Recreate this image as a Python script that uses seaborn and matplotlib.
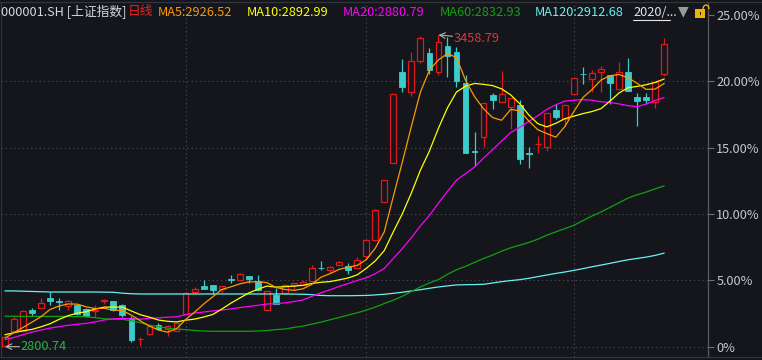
import numpy as np
import pandas as pd
import matplotlib.pyplot as plt
import seaborn as sns
from matplotlib.lines import Line2D
from matplotlib.patches import Rectangle, Arc

# 上证指数 日线 K 线, 数值为相对区间最低价 2800.74 的涨幅 (%)
low_price = 2800.74
high_price = 3458.79
high_idx = 48

opens = [0.02, 1.16, 1.16, 2.79, 2.91, 3.67, 3.43, 3.04, 3.11, 2.86,
         2.66, 3.44, 3.41, 3.16, 2.16, 0.56, 0.93, 1.65, 1.33, 1.20,
         2.49, 4.12, 4.59, 4.67, 4.37, 5.07, 5.00, 5.35, 4.92, 2.74,
         3.87, 4.04, 4.67, 4.62, 4.92, 5.96, 5.75, 6.15, 6.10, 5.90,
         6.80, 8.03, 10.87, 13.88, 20.70, 19.23, 21.56, 22.12, 20.73, 22.67,
         22.21, 19.90, 14.76, 15.84, 18.98, 18.42, 18.10, 18.22, 14.58, 15.25,
         15.08, 17.85, 17.19, 19.05, 20.58, 20.16, 20.73, 20.48, 19.39, 20.68,
         18.83, 18.83, 18.47, 20.53]
closes = [0.70, 2.10, 2.71, 2.53, 3.29, 3.41, 3.40, 3.47, 2.46, 2.28,
          2.74, 3.50, 2.79, 2.36, 0.47, 0.60, 1.53, 1.32, 1.53, 1.78,
          4.04, 4.34, 4.37, 4.24, 4.54, 5.03, 5.48, 5.12, 4.29, 4.22,
          3.24, 4.67, 4.80, 4.87, 5.93, 5.92, 6.00, 6.40, 5.75, 6.55,
          8.06, 10.32, 12.58, 19.05, 19.54, 21.51, 23.24, 20.86, 22.94, 21.89,
          20.06, 14.63, 14.70, 18.35, 18.60, 19.05, 18.72, 14.18, 14.53, 15.29,
          17.60, 17.34, 18.20, 20.23, 20.53, 20.60, 20.91, 19.85, 20.68, 19.28,
          18.55, 18.60, 19.98, 22.79]
highs = [0.75, 2.28, 2.79, 2.91, 3.67, 4.10, 3.67, 3.54, 3.14, 2.88,
         3.16, 3.61, 3.45, 3.24, 2.28, 0.73, 1.60, 1.75, 1.63, 1.80,
         4.10, 4.47, 5.05, 4.67, 4.54, 5.37, 5.55, 5.35, 5.40, 4.22,
         4.42, 4.70, 4.80, 5.05, 6.18, 6.48, 6.10, 6.48, 6.30, 6.75,
         8.10, 10.37, 12.60, 19.15, 21.67, 22.19, 23.43, 22.54, 23.496, 23.32,
         22.62, 20.48, 16.19, 18.35, 19.15, 20.78, 18.72, 18.60, 15.08, 15.89,
         17.60, 18.30, 18.20, 20.23, 21.10, 20.86, 21.16, 20.48, 21.46, 21.74,
         19.10, 19.10, 19.98, 23.24]
lows = [0.00, 1.16, 1.16, 2.33, 2.89, 3.16, 2.79, 2.79, 2.41, 2.20,
        2.20, 3.24, 2.70, 2.26, 0.32, 0.08, 0.90, 1.25, 0.80, 1.20,
        2.49, 3.97, 4.37, 3.97, 4.12, 4.80, 4.92, 4.80, 4.16, 2.66,
        3.24, 4.00, 4.34, 4.62, 4.92, 5.75, 5.55, 6.15, 5.50, 5.90,
        6.60, 8.00, 10.87, 13.88, 19.23, 18.90, 21.36, 20.53, 20.50, 20.31,
        19.60, 14.63, 13.63, 15.08, 17.90, 18.42, 16.42, 13.78, 13.45, 14.63,
        14.76, 17.19, 16.64, 19.05, 19.80, 19.18, 19.18, 18.30, 19.39, 19.28,
        16.67, 18.30, 18.02, 20.41]

# 区间之前 19 个交易日的收盘 (估计), 用于计算 MA5/10/20
prior_closes = [-1.20, -1.40, -1.46, 0.20, 0.43, 1.37, 1.37, 0.90, 0.90, 0.48,
                0.60, 1.21, 1.53, 1.30, 1.11, 0.10, 0.71, 0.53, 1.21]

# MA60 / MA120 依赖更早的数据, 直接从图上读取
ma60 = [2.30, 2.29, 2.28, 2.28, 2.28, 2.28, 2.28, 2.28, 2.27, 2.25,
        2.18, 2.10, 2.08, 2.06, 1.95, 1.80, 1.62, 1.50, 1.40, 1.33,
        1.28, 1.22, 1.18, 1.16, 1.16, 1.16, 1.16, 1.16, 1.18, 1.22,
        1.28, 1.33, 1.45, 1.55, 1.70, 1.85, 2.03, 2.20, 2.38, 2.55,
        2.75, 2.98, 3.25, 3.50, 3.80, 4.15, 4.50, 4.80, 5.05, 5.45,
        5.80, 6.05, 6.35, 6.65, 6.90, 7.20, 7.45, 7.65, 7.85, 8.10,
        8.40, 8.65, 8.90, 9.15, 9.50, 9.85, 10.15, 10.50, 10.85, 11.20,
        11.45, 11.65, 11.90, 12.12]
ma120 = [4.20, 4.20, 4.18, 4.16, 4.14, 4.12, 4.12, 4.12, 4.12, 4.12,
         4.12, 4.11, 4.10, 4.03, 3.99, 3.97, 3.97, 3.97, 3.97, 3.97,
         3.97, 3.97, 3.97, 3.97, 3.97, 3.97, 3.97, 3.97, 3.97, 3.97,
         3.97, 3.97, 3.96, 3.95, 3.92, 3.86, 3.84, 3.84, 3.84, 3.85,
         3.86, 3.90, 3.95, 4.02, 4.10, 4.20, 4.29, 4.40, 4.50, 4.58,
         4.65, 4.67, 4.68, 4.70, 4.80, 4.90, 4.98, 5.05, 5.15, 5.28,
         5.40, 5.52, 5.63, 5.75, 5.88, 6.02, 6.15, 6.28, 6.42, 6.55,
         6.65, 6.75, 6.88, 7.05]

month_start_idx = [20, 40, 63]
y_ticks = [0, 5, 10, 15, 20, 25]
y_tick_labels = ['0%', '5.00%', '10.00%', '15.00%', '20.00%', '25.00%']

header_texts = ['000001.SH [上证指数]', '日线', 'MA5:2926.52', 'MA10:2892.99',
                'MA20:2880.79', 'MA60:2832.93', 'MA120:2912.68', '2020/...']

BG = '#14161b'
UP = '#e0191b'
DOWN = '#3ccccc'
MA_COLORS = {'MA5': '#ff9900', 'MA10': '#ffff00', 'MA20': '#ff00ff',
             'MA60': '#12a012', 'MA120': '#66f2f2'}
header_colors = ['#d4d6da', '#f02020', MA_COLORS['MA5'], MA_COLORS['MA10'],
                 MA_COLORS['MA20'], MA_COLORS['MA60'], MA_COLORS['MA120'], '#e4e4e4']

sns.set_style('dark', {'axes.facecolor': BG, 'figure.facecolor': BG})
plt.rcParams['font.family'] = ['Noto Sans CJK SC', 'DejaVu Sans']
plt.rcParams['axes.unicode_minus'] = False

n = len(closes)
idx = np.arange(n)
df = pd.DataFrame({'open': opens, 'close': closes, 'high': highs, 'low': lows,
                   'ma60': ma60, 'ma120': ma120}, index=idx)
all_close = pd.Series(prior_closes + closes)
for w in (5, 10, 20):
    df[f'ma{w}'] = all_close.rolling(w).mean().iloc[len(prior_closes):].values

W, H = 762, 360
fig = plt.figure(figsize=(W / 100, H / 100), dpi=100)
ax = fig.add_axes([1 / W, (H - 357) / H, 707 / W, 355 / H])
ax.set_facecolor(BG)

# 网格 (虚点)
grid_kw = dict(color='#454851', lw=0.8, dashes=(1.2, 2.6), zorder=1)
for v in y_ticks[:-1]:
    ax.axhline(v, **grid_kw)
for m in month_start_idx:
    ax.axvline(m, **grid_kw)

# K 线
body_w = 0.64
up = df['close'] >= df['open']
for i, r in df.iterrows():
    lo_b, hi_b = min(r.open, r.close), max(r.open, r.close)
    h = max(hi_b - lo_b, 0.04)
    if up[i]:
        ax.vlines(i, r.low, lo_b, color=UP, lw=0.9, zorder=2)
        ax.vlines(i, hi_b, r.high, color=UP, lw=0.9, zorder=2)
        ax.bar(i, h, bottom=lo_b, width=body_w, facecolor=BG, edgecolor=UP,
               linewidth=0.9, zorder=3)
    else:
        ax.vlines(i, r.low, r.high, color=DOWN, lw=0.9, zorder=2)
        ax.bar(i, h, bottom=lo_b, width=body_w, facecolor=DOWN, edgecolor=DOWN,
               linewidth=0.6, zorder=3)

# 均线
for name in ['MA120', 'MA60', 'MA20', 'MA10', 'MA5']:
    sns.lineplot(x=idx, y=df[name.lower()].values, ax=ax, color=MA_COLORS[name],
                 lw=0.9, legend=False, zorder=4)

# 最高 / 最低价标注
ax.annotate('', xy=(high_idx, highs[high_idx]), xytext=(49.55, 23.4),
            arrowprops=dict(arrowstyle='->', color='#b4b4b4', lw=0.8,
                            shrinkA=0, shrinkB=0), zorder=5)
ax.text(49.7, 23.2, f'{high_price:.2f}', color='#e03636', fontsize=9.2,
        ha='left', va='center', zorder=5)
low_idx = int(np.argmin(lows))
ax.annotate('', xy=(low_idx, 0), xytext=(1.6, 0),
            arrowprops=dict(arrowstyle='->', color='#b4b4b4', lw=0.8,
                            shrinkA=0, shrinkB=0), zorder=5)
ax.text(1.7, 0, f'{low_price:.2f}', color='#2bb24c', fontsize=9.2,
        ha='left', va='center', zorder=5)

ax.set_xlim(-0.44, 77.85)
ax.set_ylim(-0.78, 25.98)
ax.set_xticks([])
ax.yaxis.tick_right()
ax.set_yticks(y_ticks)
ax.set_yticklabels(y_tick_labels)
ax.tick_params(axis='y', direction='out', length=4, width=0.8, color='#6a6e76',
               labelcolor='#c4c8ce', labelsize=9.2, pad=2)
ax.set_xlabel('')
ax.set_ylabel('')
ax.grid(False)
for side in ['left', 'top', 'bottom']:
    ax.spines[side].set_color('#33363d')
    ax.spines[side].set_linewidth(0.8)
ax.spines['right'].set_color('#585c64')
ax.spines['right'].set_linewidth(0.9)

# 顶部 / 底部边线延伸到右侧刻度区
for ypx in (2, 357):
    fig.add_artist(Line2D([0, 1], [(H - ypx) / H] * 2, color='#33363d', lw=0.8))

# 标题栏
header_x = [1, 128, 158, 247, 343, 440, 535, 633]
for x, t, c in zip(header_x, header_texts, header_colors):
    fig.text(x / W, (H - 12) / H, t, color=c, fontsize=9.2, ha='left', va='center')
fig.add_artist(Line2D([633 / W, 670 / W], [(H - 20) / H] * 2, color='#e4e4e4', lw=0.8))
fig.text(683 / W, (H - 11) / H, '▼', color='#9a9a9a', fontsize=10,
         ha='center', va='center', family='DejaVu Sans')
fig.add_artist(Rectangle((695 / W, (H - 18) / H), 10 / W, 9 / H,
                         facecolor='#f0b400', edgecolor='none'))
fig.add_artist(Rectangle((699.5 / W, (H - 15) / H), 1.5 / W, 3 / H,
                         facecolor=BG, edgecolor='none'))
fig.add_artist(Arc((706 / W, (H - 9) / H), 6 / W, 8 / H, theta1=0, theta2=180,
                   color='#f0b400', lw=1.0))

fig.savefig('out.png', dpi=100, facecolor=BG)
